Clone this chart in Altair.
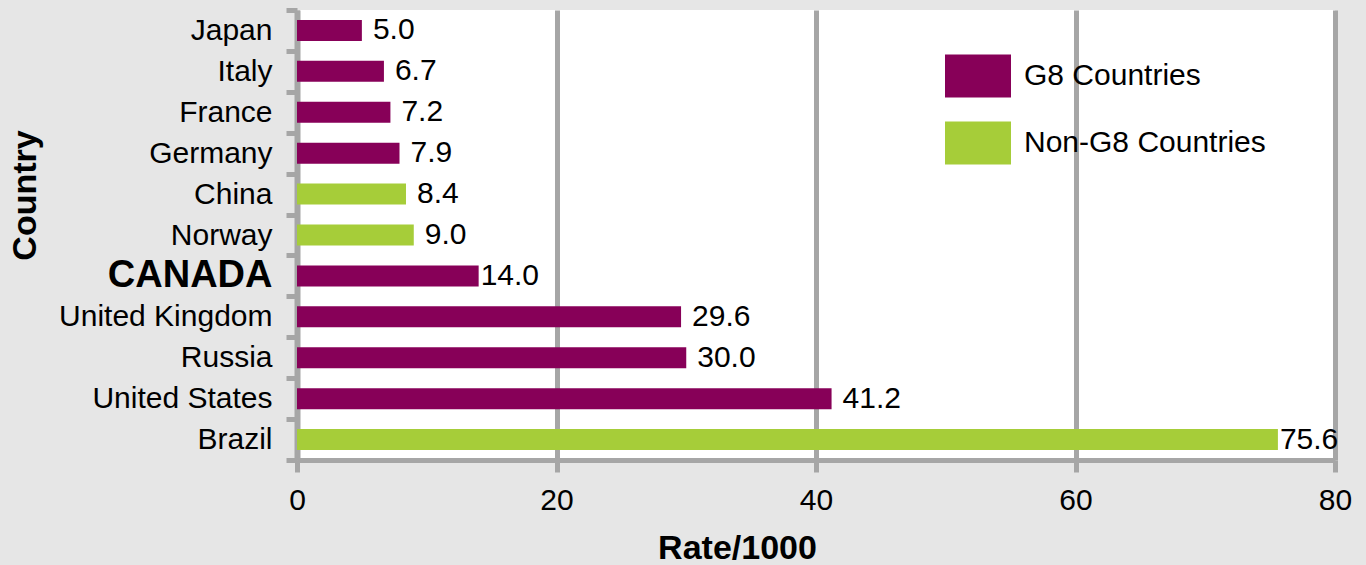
import altair as alt
import pandas as pd

countries = ["Japan", "Italy", "France", "Germany", "China", "Norway", "CANADA",
             "United Kingdom", "Russia", "United States", "Brazil"]
rates = [5.0, 6.7, 7.2, 7.9, 8.4, 9.0, 14.0, 29.6, 30.0, 41.2, 75.6]
groups = ["G8 Countries", "G8 Countries", "G8 Countries", "G8 Countries",
          "Non-G8 Countries", "Non-G8 Countries", "G8 Countries", "G8 Countries",
          "G8 Countries", "G8 Countries", "Non-G8 Countries"]
x_ticks = [0, 20, 40, 60, 80]
group_names = ["G8 Countries", "Non-G8 Countries"]
group_colors = ["#870058", "#a6cd39"]

df = pd.DataFrame({"country": countries, "rate": rates, "group": groups})
df["label"] = df["rate"].map(lambda v: f"{v:.1f}")

FONT = "Liberation Sans"
GRAY = "#a6a6a6"
FS = 30

x_enc = alt.X(
    "rate:Q",
    scale=alt.Scale(domain=[0, 80], nice=False, zero=True),
    axis=alt.Axis(
        values=x_ticks, title="Rate/1000", grid=True, gridColor=GRAY, gridWidth=5,
        gridOpacity=1, domainColor=GRAY, domainWidth=5, tickColor=GRAY, tickWidth=5,
        tickSize=12, labelFontSize=FS, labelFont=FONT, labelColor="black",
        labelPadding=13, labelFlush=False, titleFontSize=34, titleFont=FONT,
        titleFontWeight="bold", titleColor="black", titleX=440, titleY=88,
        titleAlign="center", titleBaseline="middle", format="d",
    ),
)

y_enc = alt.Y(
    "country:N",
    sort=countries,
    scale=alt.Scale(paddingInner=0, paddingOuter=0),
    axis=alt.Axis(
        title="Country", tickBand="extent", grid=False, domainColor=GRAY,
        domainWidth=6, tickColor=GRAY, tickWidth=5, tickSize=11,
        labelFontSize={"condition": {"test": "datum.value == 'CANADA'", "value": 38}, "value": FS},
        labelFontWeight={"condition": {"test": "datum.value == 'CANADA'", "value": "bold"}, "value": "normal"},
        labelFont=FONT, labelColor="black", labelPadding=14, labelLimit=0,
        titleFontSize=34, titleFont=FONT, titleFontWeight="bold", titleColor="black",
        titleX=-272, titleY=185, titleAlign="center", titleBaseline="middle",
        titleAngle=270,
    ),
)

bars = alt.Chart(df).mark_bar(size=21).encode(
    x=x_enc,
    y=y_enc,
    color=alt.Color(
        "group:N",
        scale=alt.Scale(domain=group_names, range=group_colors),
        legend=alt.Legend(
            orient="none", legendX=648, legendY=33, title=None,
            symbolType="M-1,-0.65L1,-0.65L1,0.65L-1,0.65Z", symbolSize=4356,
            symbolStrokeWidth=0, symbolOpacity=1, labelFontSize=FS, labelFont=FONT,
            labelColor="black", labelOffset=13, rowPadding=12, padding=0,
            labelLimit=0,
        ),
    ),
)

labels = alt.Chart(df).mark_text(
    align="left", baseline="middle", fontSize=FS, font=FONT, color="black",
    dx=alt.ExprRef("datum.country == 'CANADA' || datum.country == 'Brazil' ? 2 : 11"),
).encode(
    x="rate:Q",
    y=alt.Y("country:N", sort=countries),
    text="label:N",
)

chart = alt.layer(bars, labels).properties(
    width=1038, height=450,
    autosize=alt.AutoSizeParams(type="none"),
    padding={"left": 297, "top": 10, "right": 31, "bottom": 105},
    background="#e6e6e6",
).configure_view(fill="white", strokeWidth=0)

chart.save("out.html", embed_options={"renderer": "svg", "actions": False})
